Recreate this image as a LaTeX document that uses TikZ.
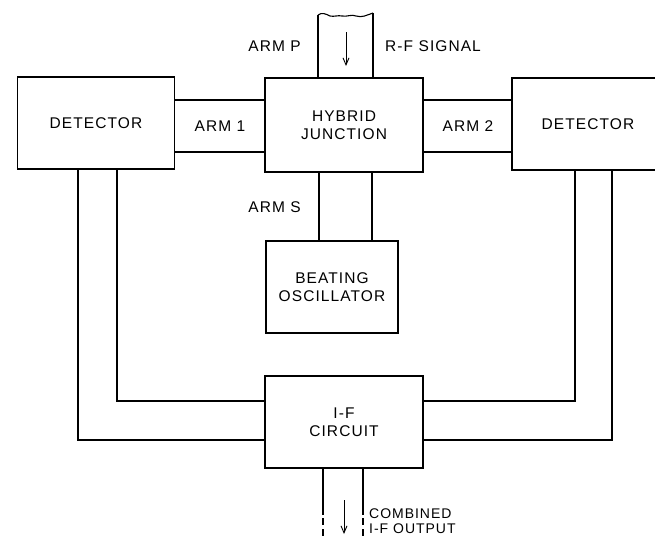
\documentclass[tikz,border=0pt]{standalone}
\usepackage{fontspec}
\setmainfont{Liberation Sans}[LetterSpace=7]
\usetikzlibrary{arrows.meta,calc}
\tikzset{
  blk/.style={draw, line width=1.6pt, inner sep=0pt, align=center, font=\fontsize{15.5}{18}\selectfont},
  wire/.style={line width=1.6pt},
  lbl/.style={inner sep=0pt, font=\fontsize{15.5}{18}\selectfont},
  sml/.style={inner sep=0pt, align=left, font=\fontsize{14}{15.5}\selectfont},
  flow/.style={line width=1pt, -{Straight Barb[length=7pt,width=6pt,line width=0.9pt]}}
}
\begin{document}
\begin{tikzpicture}[x=1pt,y=-1pt]
\useasboundingbox (0,0) rectangle (655,536);
% blocks
\node[blk, minimum width=157pt, minimum height=92pt] (det1) at (96,123) {DETECTOR};
\node[blk, minimum width=158pt, minimum height=94pt] (hyb) at (344,125) {HYBRID\\JUNCTION};
\node[blk, minimum width=152pt, minimum height=92pt] (det2) at (588,124) {DETECTOR};
\node[blk, minimum width=132pt, minimum height=92pt] (osc) at (332,287) {BEATING\\OSCILLATOR};
\node[blk, minimum width=158pt, minimum height=92pt] (ifc) at (344,422) {I-F\\CIRCUIT};
% arm labels
\node[lbl] (a1) at (220,126) {ARM 1};
\node[lbl] (a2) at (468,126) {ARM 2};
\node[lbl, anchor=east] (ap) at (301,46) {ARM P};
\node[lbl, anchor=west] (rf) at (385,46) {R-F SIGNAL};
\node[lbl, anchor=east] (as) at (301,207) {ARM S};
\node[sml, anchor=west] (out) at (369,521) {COMBINED\\I-F OUTPUT};
% arm 1 and arm 2 bands
\draw[wire] (det1.east |- 0,100) -- (hyb.west |- 0,100);
\draw[wire] (det1.east |- 0,152) -- (hyb.west |- 0,152);
\draw[wire] (hyb.east |- 0,100) -- (det2.west |- 0,100);
\draw[wire] (hyb.east |- 0,152) -- (det2.west |- 0,152);
% arm P
\coordinate (p1) at (318,15);
\coordinate (p2) at (373,13);
\draw[wire] (p1) -- (p1 |- hyb.north);
\draw[wire] (p2) -- (p2 |- hyb.north);
\draw[line width=1.1pt] (p1) .. controls (322,12) and (326,14) .. (330,16)
  .. controls (334,17) and (338,15) .. (342,16)
  .. controls (347,17) and (352,14) .. (356,16)
  .. controls (362,18) and (367,15) .. (p2);
\coordinate (pa) at (346,32);
\coordinate (pb) at (346,66);
\draw[flow] (pa) -- (pb);
% arm S
\draw[wire] (319,0 |- hyb.south) -- (319,0 |- osc.north);
\draw[wire] (372,0 |- hyb.south) -- (372,0 |- osc.north);
% wires to I-F circuit
\draw[wire] (117,0 |- det1.south) |- (ifc.west |- 0,401);
\draw[wire] (78,0 |- det1.south) |- (ifc.west |- 0,440);
\draw[wire] (575,0 |- det2.south) |- (ifc.east |- 0,401);
\draw[wire] (612,0 |- det2.south) |- (ifc.east |- 0,440);
% output
\coordinate (o1) at (323,515);
\coordinate (o2) at (363,515);
\draw[wire] (o1 |- ifc.south) -- (o1);
\draw[wire] (o2 |- ifc.south) -- (o2);
\draw[wire] (323,518) -- (323,525) (323,529) -- (323,536);
\draw[wire] (363,518) -- (363,525) (363,529) -- (363,536);
\coordinate (oa) at (344,500);
\coordinate (ob) at (344,534);
\draw[flow] (oa) -- (ob);
\end{tikzpicture}
\end{document}
